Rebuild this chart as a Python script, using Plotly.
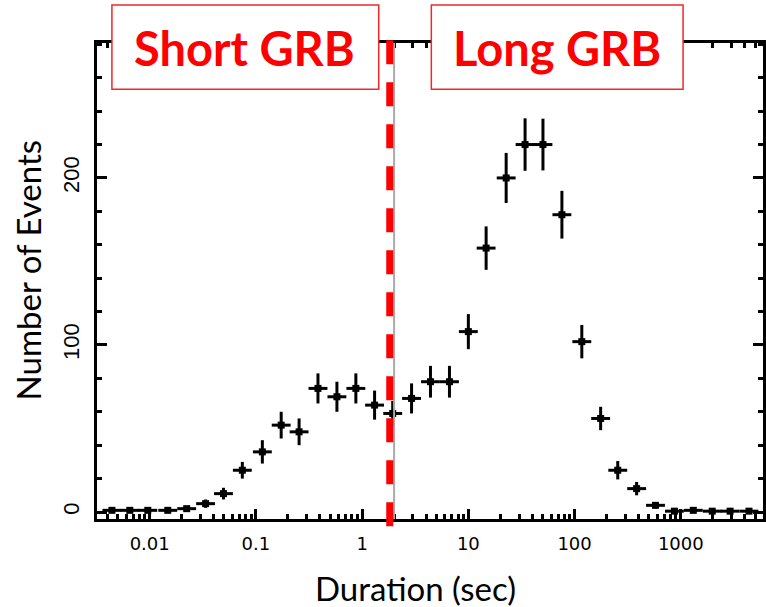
import plotly.graph_objects as go

# Data (bin centres in seconds, counts, vertical errors)
duration = [0.00441, 0.0065, 0.0096, 0.0148, 0.0223, 0.0336, 0.0495, 0.0745,
            0.115, 0.173, 0.255, 0.384, 0.579, 0.873, 1.31, 1.94, 2.92, 4.40,
            6.64, 10.0, 14.7, 22.7, 34.2, 50.4, 76.0, 117, 176, 255, 384, 578,
            871, 1312, 1977, 2911, 4385]
events = [1, 1, 1, 1, 2, 5, 11, 25,
          36, 52, 48, 74, 69, 74, 64, 59, 68, 78,
          78, 108, 158, 200, 220, 220, 178, 102, 56, 25, 14, 4,
          0.5, 1, 0.5, 0.5, 0.5]
event_err = [1, 1, 1, 1, 1.5, 2.5, 3.5, 5,
             7, 8, 8, 9, 9, 9, 8.7, 7.5, 9, 9.5,
             9.5, 10.5, 13, 15, 15.7, 15.5, 14.3, 10, 7, 5.5, 4, 2,
             1, 1, 1, 1, 1]

x_tickvals = [0.01, 0.1, 1, 10, 100, 1000]
x_ticktext = ["0.01", "0.1", "1", "10", "100", "1000"]
y_tickvals = [0, 100, 200]
y_ticktext = ["0", "100", "200"]

split_red = 1.82
split_grey = 2.0

fig = go.Figure()
fig.add_trace(go.Scatter(
    x=duration, y=events, mode="markers",
    marker=dict(symbol="square", size=7, color="black"),
    error_y=dict(type="data", array=event_err, thickness=3, width=0, color="black"),
    error_x=dict(type="percent", symmetric=False, value=22.7, valueminus=18.5,
                 thickness=3, width=0, color="black"),
    showlegend=False,
))

axis_common = dict(showline=True, linewidth=3, linecolor="black", mirror="allticks",
                   ticks="inside", tickwidth=2.5, tickcolor="black", ticklen=10,
                   showgrid=False, zeroline=False)

fig.update_xaxes(type="log", range=[-2.496, 3.774], tickvals=x_tickvals, ticktext=x_ticktext,
                 tickfont=dict(family="DejaVu Sans", size=18, color="black"),
                 ticklabelstandoff=6,
                 minor=dict(ticks="inside", ticklen=5, tickwidth=2.5, tickcolor="black", dtick="D1"),
                 **axis_common)
fig.update_yaxes(range=[-4.19, 280.8], tickvals=y_tickvals, ticktext=y_ticktext,
                 tickangle=-90,
                 tickfont=dict(family="Liberation Sans", size=22, color="black"),
                 ticklabelstandoff=6,
                 minor=dict(ticks="inside", ticklen=5, tickwidth=2.5, tickcolor="black", dtick=20),
                 **axis_common)

shapes = [
    dict(type="line", xref="x", yref="paper", x0=split_grey, x1=split_grey, y0=0, y1=1,
         line=dict(color="rgb(170,170,170)", width=2), layer="above"),
    dict(type="line", xref="x", yref="paper", x0=split_red, x1=split_red, y0=1.006, y1=-0.019,
         line=dict(color="rgb(255,0,0)", width=7, dash="24px,18px"), layer="above"),
    dict(type="rect", xref="paper", yref="paper", x0=0.0224, x1=0.423, y0=0.903, y1=1.080,
         fillcolor="white", line=dict(color="rgb(240,40,40)", width=1.5), layer="above"),
    dict(type="rect", xref="paper", yref="paper", x0=0.502, x1=0.880, y0=0.903, y1=1.080,
         fillcolor="white", line=dict(color="rgb(240,40,40)", width=1.5), layer="above"),
]

annotations = [
    dict(text="<b>Short GRB</b>", xref="paper", yref="paper", x=0.2212, y=0.9895,
         xanchor="center", yanchor="middle", showarrow=False,
         font=dict(family="Lato", size=47, color="rgb(255,0,0)")),
    dict(text="<b>Long GRB</b>", xref="paper", yref="paper", x=0.6906, y=0.9895,
         xanchor="center", yanchor="middle", showarrow=False,
         font=dict(family="Lato", size=47, color="rgb(255,0,0)")),
    dict(text="Number of Events", xref="paper", yref="paper", x=-0.1031, y=0.523,
         xanchor="center", yanchor="middle", showarrow=False, textangle=-90,
         font=dict(family="Lato", size=33, color="black")),
    dict(text="Duration (sec)", xref="paper", yref="paper", x=0.4783, y=-0.145,
         xanchor="center", yanchor="middle", showarrow=False,
         font=dict(family="Lato", size=33, color="black")),
]

fig.update_layout(
    width=766, height=607,
    margin=dict(l=97, r=0, t=43, b=88),
    paper_bgcolor="white", plot_bgcolor="white",
    shapes=shapes, annotations=annotations,
)

fig.write_html("out.html", config={"displayModeBar": False},
               post_script="document.body.style.margin='0';document.body.style.overflow='hidden';")
